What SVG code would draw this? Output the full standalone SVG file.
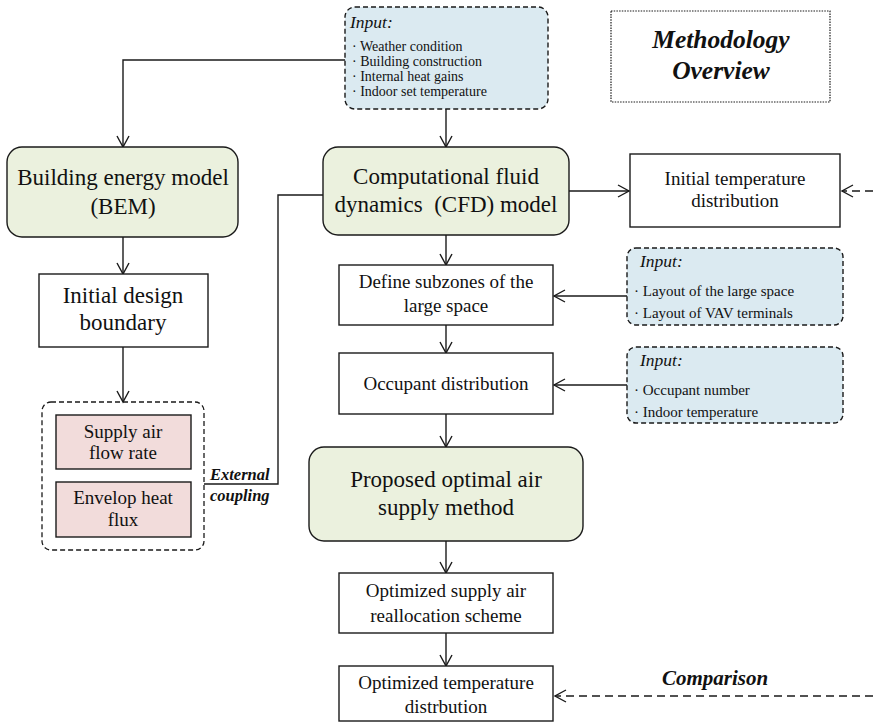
<svg xmlns="http://www.w3.org/2000/svg" width="873" height="724" viewBox="0 0 873 724" font-family="'Liberation Serif', 'Times New Roman', 'DejaVu Serif', serif">
  <defs>
    <style>
      text { font-family: "Liberation Serif", "Times New Roman", "DejaVu Serif", serif; fill: #111; }
      .c { text-anchor: middle; }
      .box { fill: #ffffff; stroke: #1a1a1a; stroke-width: 1.4; }
      .model { fill: #ebf1de; stroke: #1a1a1a; stroke-width: 1.4; }
      .input { fill: #dbeaf1; stroke: #1a1a1a; stroke-width: 1.4; stroke-dasharray: 5 3; }
      .param { fill: #f2dcdb; stroke: #1a1a1a; stroke-width: 1.4; }
      .group { fill: none; stroke: #1a1a1a; stroke-width: 1.3; stroke-dasharray: 5 3; }
      .title { fill: #ffffff; stroke: #1a1a1a; stroke-width: 1.2; stroke-dasharray: 1.5 1.2; }
      .f23 { font-size: 23px; }
      .f19 { font-size: 19px; }
      .f15 { font-size: 15px; }
      .f14 { font-size: 14px; }
      .it { font-style: italic; font-size: 17.5px; }
      .bi { font-style: italic; font-weight: bold; }
      .wire { fill: none; stroke: #1a1a1a; stroke-width: 1.4; }
      .dash { stroke-dasharray: 8 5; }
    </style>
    <marker id="arrow" markerUnits="userSpaceOnUse" viewBox="-13 -8 15 16" refX="0" refY="0" markerWidth="15" markerHeight="16" orient="auto">
      <path d="M-11,-6 L0,0 L-11,6" fill="none" stroke="#1a1a1a" stroke-width="1.4"/>
    </marker>
  </defs>

  <!-- title -->
  <g id="title">
    <rect class="title" x="611" y="11" width="219" height="91"/>
    <text class="c bi" x="721" y="48" font-size="25.5">Methodology</text>
    <text class="c bi" x="721" y="79" font-size="25.5">Overview</text>
  </g>

  <!-- connectors -->
  <g id="connectors">
    <path class="wire" d="M345,60 H123 V147" marker-end="url(#arrow)"/>
    <path class="wire" d="M446,109 V147" marker-end="url(#arrow)"/>
    <path class="wire" d="M569,191 H629" marker-end="url(#arrow)"/>
    <path class="wire dash" d="M873,191 H842" marker-end="url(#arrow)"/>
    <path class="wire" d="M123,237 V274" marker-end="url(#arrow)"/>
    <path class="wire" d="M123,347 V402" marker-end="url(#arrow)"/>
    <path class="wire" d="M204,484 H278 V195 H323"/>
    <path class="wire" d="M446,235 V265" marker-end="url(#arrow)"/>
    <path class="wire" d="M627,296 H554" marker-end="url(#arrow)"/>
    <path class="wire" d="M446,325 V353" marker-end="url(#arrow)"/>
    <path class="wire" d="M627,385 H554" marker-end="url(#arrow)"/>
    <path class="wire" d="M446,414 V447" marker-end="url(#arrow)"/>
    <path class="wire" d="M446,541 V573" marker-end="url(#arrow)"/>
    <path class="wire" d="M446,633 V666" marker-end="url(#arrow)"/>
    <path class="wire dash" d="M873,696 H555" marker-end="url(#arrow)"/>
  </g>

  <!-- labels on connectors -->
  <g id="labels">
    <text class="bi" x="210" y="480" font-size="16.5">External</text>
    <text class="bi" x="210" y="501" font-size="16.5">coupling</text>
    <text class="bi" x="662" y="685" font-size="21">Comparison</text>
  </g>

  <g id="input-main">
    <rect class="input" x="345" y="7" width="203" height="102" rx="10"/>
    <text class="it" x="350" y="28">Input:</text>
    <text class="f14" x="352" y="51">· Weather condition</text>
    <text class="f14" x="352" y="66">· Building construction</text>
    <text class="f14" x="352" y="81">· Internal heat gains</text>
    <text class="f14" x="352" y="96">· Indoor set temperature</text>
  </g>

  <g id="bem">
    <rect class="model" x="7" y="147" width="231" height="90" rx="15"/>
    <text class="c f23" x="123" y="185">Building energy model</text>
    <text class="c f23" x="123" y="214">(BEM)</text>
  </g>

  <g id="cfd">
    <rect class="model" x="323" y="147" width="246" height="88" rx="15"/>
    <text class="c f23" x="446" y="184" xml:space="preserve">Computational fluid</text>
    <text class="c f23" x="446" y="212" xml:space="preserve">dynamics  (CFD) model</text>
  </g>

  <g id="initial-temp">
    <rect class="box" x="630" y="154" width="210" height="73"/>
    <text class="c f19" x="735" y="185">Initial temperature</text>
    <text class="c f19" x="735" y="207">distribution</text>
  </g>

  <g id="initial-boundary">
    <rect class="box" x="39" y="274" width="169" height="73"/>
    <text class="c f23" x="123" y="303">Initial design</text>
    <text class="c f23" x="123" y="330">boundary</text>
  </g>

  <g id="boundary-group">
    <rect class="group" x="42" y="402" width="162" height="148" rx="9"/>
    <g id="supply-air">
      <rect class="param" x="56" y="415" width="135" height="54"/>
      <text class="c f19" x="123" y="438">Supply air</text>
      <text class="c f19" x="123" y="459">flow rate</text>
    </g>
    <g id="envelope-flux">
      <rect class="param" x="56" y="482" width="135" height="55"/>
      <text class="c f19" x="123" y="504">Envelop heat</text>
      <text class="c f19" x="123" y="526">flux</text>
    </g>
  </g>

  <g id="subzones">
    <rect class="box" x="339" y="265" width="214" height="60"/>
    <text class="c f19" x="446" y="288">Define subzones of the</text>
    <text class="c f19" x="446" y="312">large space</text>
  </g>

  <g id="input-layout">
    <rect class="input" x="627" y="248" width="216" height="77" rx="9"/>
    <text class="it" x="640" y="267">Input:</text>
    <text class="f15" x="634" y="296">· Layout of the large space</text>
    <text class="f15" x="634" y="318">· Layout of VAV terminals</text>
  </g>

  <g id="occupants">
    <rect class="box" x="339" y="353" width="214" height="61"/>
    <text class="c f19" x="446" y="390">Occupant distribution</text>
  </g>

  <g id="input-occupants">
    <rect class="input" x="627" y="347" width="216" height="76" rx="9"/>
    <text class="it" x="640" y="366">Input:</text>
    <text class="f15" x="634" y="395">· Occupant number</text>
    <text class="f15" x="634" y="417">· Indoor temperature</text>
  </g>

  <g id="proposed">
    <rect class="model" x="309" y="447" width="274" height="94" rx="15"/>
    <text class="c f23" x="446" y="487">Proposed optimal air</text>
    <text class="c f23" x="446" y="515">supply method</text>
  </g>

  <g id="reallocation">
    <rect class="box" x="339" y="573" width="214" height="60"/>
    <text class="c f19" x="446" y="597">Optimized supply air</text>
    <text class="c f19" x="446" y="622">reallocation scheme</text>
  </g>

  <g id="optimized-temp">
    <rect class="box" x="339" y="666" width="214" height="55"/>
    <text class="c f19" x="446" y="689">Optimized temperature</text>
    <text class="c f19" x="446" y="713">distrbution</text>
  </g>
</svg>
